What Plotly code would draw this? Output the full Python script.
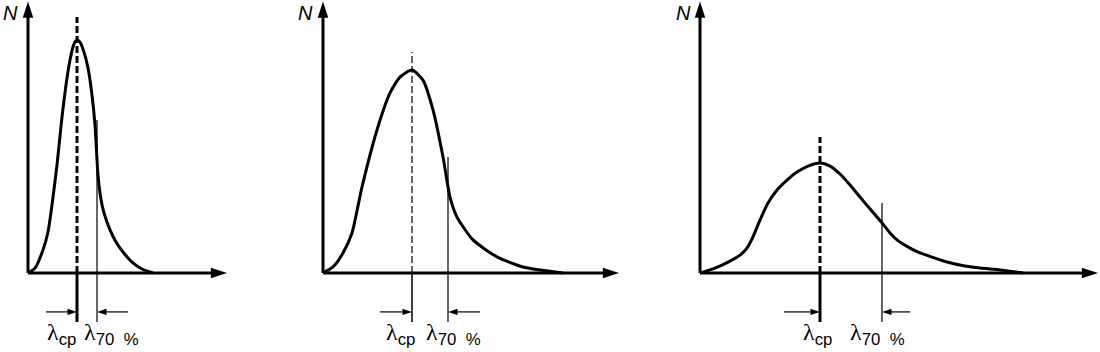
import plotly.graph_objects as go

# ---- data (lambda in arbitrary units, N normalised to panel-1 peak) ----
lam1 = [0, 0.07, 0.15, 0.20, 0.24, 0.29, 0.34, 0.38, 0.42, 0.46, 0.49, 0.52, 0.56, 0.60, 0.64, 0.67, 0.70, 0.73, 0.76, 0.82, 0.88, 0.95, 1.04, 1.14, 1.25]
n1 = [0, 0.021, 0.099, 0.176, 0.292, 0.464, 0.670, 0.807, 0.914, 0.983, 1.0, 0.991, 0.948, 0.880, 0.764, 0.635, 0.421, 0.315, 0.258, 0.185, 0.133, 0.090, 0.047, 0.017, 0]

lam2 = [0, 0.10, 0.20, 0.29, 0.39, 0.54, 0.67, 0.77, 0.89, 1.00, 1.10, 1.20, 1.27, 1.34, 1.50, 1.74, 2.00, 2.40]
n2 = [0, 0.026, 0.086, 0.172, 0.369, 0.614, 0.773, 0.841, 0.871, 0.828, 0.700, 0.498, 0.326, 0.240, 0.142, 0.069, 0.026, 0]

lam3 = [0, 0.15, 0.30, 0.40, 0.47, 0.53, 0.60, 0.68, 0.77, 0.87, 0.97, 1.08, 1.20, 1.30, 1.40, 1.50, 1.60, 1.71, 1.82, 1.90, 1.97, 2.10, 2.20, 2.35, 2.47, 2.65, 2.80, 3.00, 3.23]
n3 = [0, 0.021, 0.051, 0.077, 0.107, 0.155, 0.227, 0.300, 0.356, 0.399, 0.433, 0.459, 0.472, 0.459, 0.425, 0.378, 0.326, 0.270, 0.215, 0.172, 0.142, 0.107, 0.086, 0.064, 0.047, 0.030, 0.021, 0.013, 0]

lam_cp = [0.49, 0.89, 1.20]
lam_70 = [0.69, 1.25, 1.82]
cp_top = [1.099, 0.948, 0.584]
p70_top = [0.657, 0.498, 0.300]
axis_x_end = [1.99, 2.96, 3.98]
axis_y_end = 1.165
dim_left = [0.18, 0.57, 0.84]
dim_right = [1.00, 1.57, 2.10]

curves = [(lam1, n1), (lam2, n2), (lam3, n3)]

# ---- layout geometry (pixels) ----
W, H = 1100, 352
panel_px = [(0, 250, 28), (255, 660, 323), (665, 1100, 700)]  # (left, right, origin)
px_per_unit = 100.0
y_axis_px = 273
px_per_n = 233.0
y_range = [-(H - y_axis_px) / px_per_n, y_axis_px / px_per_n]
cp_w = [3, 1.2, 3]
cp_below_w = [3, 1.5, 3]
cp_label_dx = [-0.16, -0.12, -0.03]
p70_label_dx = [0.14, 0.05, -0.05]
n_label_dx = [-0.18, -0.18, -0.17]
y_bottom = -0.21
y_dim = -0.167
y_label = -0.262
AX_HEAD = 17     # marker size of axis arrow heads
DIM_HEAD = 10    # marker size of dimension arrow heads

fig = go.Figure()
layout = dict(width=W, height=H, margin=dict(l=0, r=0, t=0, b=0),
              paper_bgcolor="white", plot_bgcolor="white", showlegend=False)
annotations = []
LAM = "<span style=\"font-family:Liberation Serif\">λ</span>"


def line(x, y, xa, ya, width, dash=None):
    fig.add_trace(go.Scatter(x=x, y=y, mode="lines", xaxis=xa, yaxis=ya, hoverinfo="skip",
                             line=dict(color="black", width=width, dash=dash)))


def head(x, y, xa, ya, size, angle):
    fig.add_trace(go.Scatter(x=[x], y=[y], mode="markers", xaxis=xa, yaxis=ya, hoverinfo="skip",
                             marker=dict(symbol="arrow", size=size, angle=angle, color="black",
                                         line=dict(width=0))))


for i, ((lx, ny), (pl, pr, po)) in enumerate(zip(curves, panel_px)):
    k = "" if i == 0 else str(i + 1)
    xa, ya = "x" + k, "y" + k
    layout["xaxis" + k] = dict(domain=[pl / W, pr / W],
                               range=[(pl - po) / px_per_unit, (pr - po) / px_per_unit],
                               visible=False, anchor=ya, fixedrange=True)
    layout["yaxis" + k] = dict(domain=[0, 1], range=y_range, visible=False,
                               anchor=xa, fixedrange=True)
    # axes with arrow heads
    hx = AX_HEAD * 0.8 / px_per_unit
    hy = AX_HEAD * 0.8 / px_per_n
    line([0, axis_x_end[i] - hx], [0, 0], xa, ya, 3)
    head(axis_x_end[i], 0, xa, ya, AX_HEAD, 90)
    line([0, 0], [0, axis_y_end - hy], xa, ya, 3)
    head(0, axis_y_end, xa, ya, AX_HEAD, 0)
    # curve
    fig.add_trace(go.Scatter(x=lx, y=ny, mode="lines", xaxis=xa, yaxis=ya, hoverinfo="skip",
                             line=dict(color="black", width=3, shape="spline", smoothing=0.6)))
    # lambda_cp line: dashed above axis, solid below
    line([lam_cp[i], lam_cp[i]], [0, cp_top[i]], xa, ya, cp_w[i], "7px,3px")
    line([lam_cp[i], lam_cp[i]], [y_bottom, 0], xa, ya, cp_below_w[i])
    # lambda_70 line
    line([lam_70[i], lam_70[i]], [y_bottom, p70_top[i]], xa, ya, 1.2)
    # dimension arrows
    dh = DIM_HEAD * 0.7 / px_per_unit
    line([dim_left[i], lam_cp[i] - dh], [y_dim, y_dim], xa, ya, 1.2)
    head(lam_cp[i], y_dim, xa, ya, DIM_HEAD, 90)
    line([dim_right[i], lam_70[i] + dh], [y_dim, y_dim], xa, ya, 1.2)
    head(lam_70[i], y_dim, xa, ya, DIM_HEAD, -90)
    # labels
    annotations.append(dict(x=lam_cp[i] + cp_label_dx[i], y=y_label, xref=xa, yref=ya,
                            showarrow=False, xanchor="center", yanchor="middle",
                            text=LAM + "<sub>cp</sub>",
                            font=dict(family="Liberation Sans", size=24, color="black")))
    annotations.append(dict(x=lam_70[i] + p70_label_dx[i], y=y_label, xref=xa, yref=ya,
                            showarrow=False, xanchor="center", yanchor="middle",
                            text=LAM + "<sub>70  %</sub>",
                            font=dict(family="Liberation Sans", size=24, color="black")))
    annotations.append(dict(x=n_label_dx[i], y=1.115, xref=xa, yref=ya,
                            showarrow=False, xanchor="center", yanchor="middle",
                            text="<i>N</i>",
                            font=dict(family="Liberation Sans", size=20, color="black")))

layout["annotations"] = annotations
fig.update_layout(**layout)
fig.write_html("out.html")
